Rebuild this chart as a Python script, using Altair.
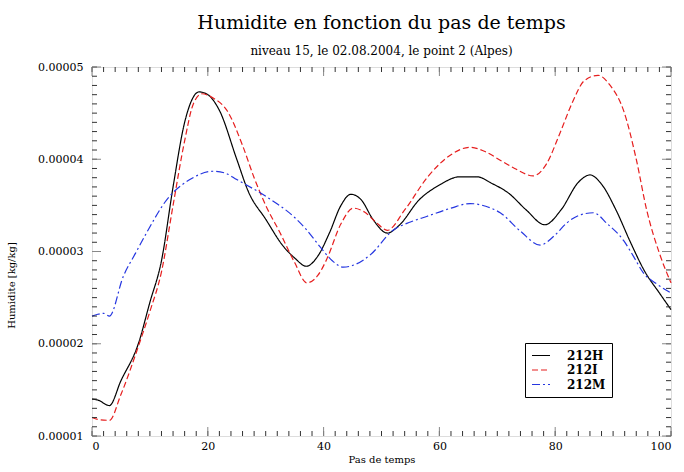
import altair as alt
import pandas as pd

# --- data (humidity in units of 1e-5 kg/kg) ---
h_x = [0, 1, 3, 5, 8, 10, 12, 14, 16, 18.5, 20, 22, 25, 27, 30, 33, 35, 37, 39, 41, 43, 44.7,
       46.5, 48.5, 51, 53, 56.5, 60, 63.5, 66.5, 69, 72, 75, 78.2, 81, 84, 86, 88, 90.5, 93,
       95.5, 98, 100]
h_y = [1.40, 1.39, 1.33, 1.60, 2.00, 2.45, 2.90, 3.70, 4.40, 4.73, 4.70, 4.53, 4.00, 3.65,
       3.35, 3.06, 2.93, 2.84, 2.95, 3.20, 3.50, 3.62, 3.56, 3.35, 3.20, 3.28, 3.56, 3.72,
       3.81, 3.81, 3.74, 3.63, 3.45, 3.29, 3.45, 3.75, 3.83, 3.73, 3.45, 3.10, 2.78, 2.55, 2.37]

i_x = [0, 1, 3, 5, 8, 10, 12, 14, 16, 17.5, 19, 21, 23.3, 26, 28, 30, 32.5, 35, 37.1, 39,
       40.5, 43, 45.1, 47, 49, 51, 54, 58, 62, 65.3, 68, 70.5, 73, 76.2, 78.5, 80.8, 83, 85,
       87.4, 89.5, 91.8, 94, 95.8, 98, 100]
i_y = [1.20, 1.18, 1.17, 1.45, 1.97, 2.35, 2.78, 3.50, 4.20, 4.60, 4.71, 4.66, 4.53, 4.15,
       3.80, 3.50, 3.20, 2.88, 2.66, 2.74, 2.91, 3.30, 3.47, 3.43, 3.32, 3.23, 3.45, 3.81,
       4.05, 4.13, 4.08, 3.99, 3.90, 3.82, 3.95, 4.28, 4.62, 4.85, 4.91, 4.80, 4.53, 4.00,
       3.45, 2.98, 2.66]

m_x = [0, 1, 2, 3, 5.4, 7.5, 9.4, 12.9, 16.9, 20.9, 23, 25, 30.2, 34.8, 37, 39.4, 41.5,
       43.4, 45.5, 48, 52, 55, 57.8, 62, 65.3, 68, 70.5, 74, 77.4, 80, 82, 84.5, 86.6, 89,
       91.8, 93.5, 95.2, 97.5, 100]
m_y = [2.30, 2.32, 2.33, 2.30, 2.73, 2.98, 3.20, 3.56, 3.78, 3.87, 3.85, 3.78, 3.59, 3.38,
       3.24, 3.05, 2.90, 2.83, 2.86, 2.96, 3.23, 3.32, 3.38, 3.47, 3.52, 3.49, 3.42, 3.22,
       3.07, 3.18, 3.31, 3.40, 3.42, 3.30, 3.12, 2.95, 2.77, 2.65, 2.55]

series = ["212H", "212I", "212M"]
colors = ["#000000", "#e61e1e", "#2536e0"]
dashes = [[1, 0], [6, 3], [8, 3, 2, 3]]

x_labels = [0, 20, 40, 60, 80, 100]
y_labels = [0.00001, 0.00002, 0.00003, 0.00004, 0.00005]
x_minor = list(range(0, 101, 2))
y_minor = [k * 1e-6 for k in range(10, 51)]

rows = []
for name, xs, ys in [("212H", h_x, h_y), ("212I", i_x, i_y), ("212M", m_x, m_y)]:
    for a, b in zip(xs, ys):
        rows.append({"pas": a, "hum": b * 1e-5, "serie": name})
df = pd.DataFrame(rows)

W, H = 579, 369
SERIF = "DejaVu Serif"

xscale = alt.Scale(domain=[0, 100], nice=False, zero=False)
yscale = alt.Scale(domain=[0.00001, 0.00005], nice=False, zero=False)

xaxis = alt.Axis(values=x_labels, title="Pas de temps", domain=False, ticks=False,
                 grid=False, labelPadding=4, labelFont=SERIF, labelFontSize=11,
                 titleFont=SERIF, titleFontSize=10, titleFontWeight="normal",
                 titlePadding=3, labelColor="black", titleColor="black")
yaxis = alt.Axis(values=y_labels, format=".5f", title="Humidite [kg/kg]",
                 domain=False, ticks=False, grid=False, labelPadding=9,
                 labelFont=SERIF, labelFontSize=11, titleFont=SERIF,
                 titleFontSize=10, titleFontWeight="normal",
                 titleX=-76, titleY=218, labelColor="black", titleColor="black")

lines = alt.Chart(df).mark_line(interpolate="monotone", strokeWidth=1.2).encode(
    x=alt.X("pas:Q", scale=xscale, axis=xaxis, title="Pas de temps"),
    y=alt.Y("hum:Q", scale=yscale, axis=yaxis, title="Humidite [kg/kg]"),
    color=alt.Color("serie:N", scale=alt.Scale(domain=series, range=colors),
                    legend=alt.Legend(title=None, orient="none", legendX=433, legendY=276,
                                      strokeColor="black", fillColor="white", padding=6,
                                      symbolType="stroke", symbolSize=324, clipHeight=13,
                                      symbolStrokeWidth=1.2, labelFont=SERIF,
                                      labelFontSize=12, labelFontWeight="bold",
                                      labelOffset=16, rowPadding=1.5, labelColor="black")),
    strokeDash=alt.StrokeDash("serie:N", scale=alt.Scale(domain=series, range=dashes),
                              legend=None),
)

tx_minor = pd.DataFrame({"t": x_minor})
tx_major = pd.DataFrame({"t": x_labels})
ty_minor = pd.DataFrame({"t": y_minor})
ty_major = pd.DataFrame({"t": y_labels})

def xt(data, y0, y1, col):
    return alt.Chart(data).mark_rule(color=col, strokeWidth=1).encode(
        x=alt.X("t:Q", scale=xscale, axis=xaxis, title="Pas de temps"),
        y=alt.value(y0), y2=alt.value(y1))

def yt(data, x0, x1, col):
    return alt.Chart(data).mark_rule(color=col, strokeWidth=1).encode(
        y=alt.Y("t:Q", scale=yscale, axis=yaxis, title="Humidite [kg/kg]"),
        x=alt.value(x0), x2=alt.value(x1))

ticks = [
    xt(tx_minor, H, H - 5, "#333"), xt(tx_minor, 0, 5, "#333"),
    xt(tx_major, H, H - 9, "#888"), xt(tx_major, 0, 9, "#888"),
    yt(ty_minor, 0, 5, "#333"), yt(ty_minor, W, W - 5, "#333"),
    yt(ty_major, 0, 9, "#888"), yt(ty_major, W, W - 9, "#888"),
]

chart = alt.layer(lines, *ticks).properties(
    width=W, height=H,
    title=alt.TitleParams(
        text="Humidite en fonction du pas de temps",
        subtitle="niveau 15, le 02.08.2004, le point 2 (Alpes)",
        anchor="middle", font=SERIF, fontSize=19, fontWeight="normal", color="black",
        subtitleFont=SERIF, subtitleFontSize=12, subtitleColor="black",
        subtitlePadding=13, offset=4),
    autosize=alt.AutoSizeParams(type="none"),
    padding={"left": 92, "top": 67, "right": 13, "bottom": 36},
).configure_view(stroke="black", strokeWidth=1.2).configure(background="white")

chart.save("out.html", embed_options={"renderer": "svg", "actions": False})
